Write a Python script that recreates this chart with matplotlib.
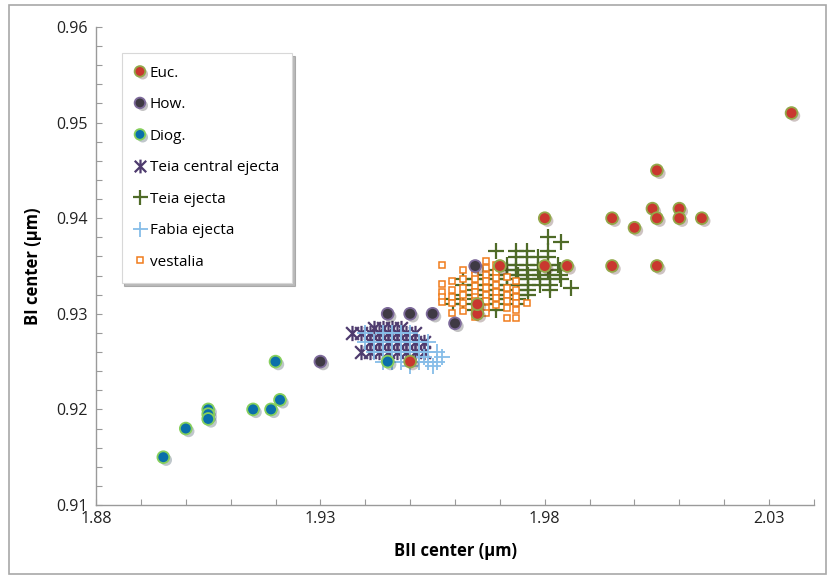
import numpy as np
import matplotlib
matplotlib.use('Agg')
import matplotlib.pyplot as plt
from matplotlib.path import Path
from matplotlib.patches import Rectangle
from matplotlib.ticker import FixedLocator, MultipleLocator
import matplotlib.patheffects as pe

plt.rcParams['font.family'] = ['Open Sans', 'DejaVu Sans']

# ---- data ----
euc_x = [1.950, 1.965, 1.965, 1.970, 1.980, 1.985, 1.980, 1.995, 1.995, 2.000,
         2.004, 2.005, 2.005, 2.005, 2.010, 2.010, 2.015, 2.035]
euc_y = [0.925, 0.930, 0.931, 0.935, 0.935, 0.935, 0.940, 0.940, 0.935, 0.939,
         0.941, 0.945, 0.940, 0.935, 0.941, 0.940, 0.940, 0.951]

how_x = [1.930, 1.945, 1.950, 1.955, 1.960, 1.9645]
how_y = [0.925, 0.930, 0.930, 0.930, 0.929, 0.935]

diog_x = [1.895, 1.900, 1.905, 1.905, 1.905, 1.915, 1.919, 1.920, 1.921, 1.945]
diog_y = [0.915, 0.918, 0.920, 0.9195, 0.919, 0.920, 0.920, 0.925, 0.921, 0.925]

# Teia central ejecta, one row per y value
teia_c_rows = {
    0.9285: [1.942, 1.944, 1.946, 1.948],
    0.9280: [1.937, 1.939, 1.941, 1.943, 1.945, 1.947, 1.949, 1.951],
    0.9270: [1.941, 1.943, 1.945, 1.947, 1.949, 1.951, 1.953],
    0.9260: [1.939, 1.941, 1.943, 1.945, 1.947, 1.949, 1.951, 1.953],
}

teia_rows = {
    0.9380: [1.9808],
    0.9375: [1.9837],
    0.9366: [1.9692, 1.9737, 1.9761, 1.9808],
    0.9359: [1.9737, 1.9761, 1.9785, 1.9808],
    0.9351: [1.9715, 1.9737, 1.9761, 1.9785, 1.9808, 1.9830],
    0.9346: [1.9692, 1.9715, 1.9737, 1.9761, 1.9785, 1.9808, 1.9833],
    0.9341: [1.9670, 1.9692, 1.9715, 1.9741, 1.9763, 1.9789, 1.9811, 1.9833],
    0.9336: [1.9618, 1.9644, 1.9670, 1.9692, 1.9715, 1.9741, 1.9763, 1.9789, 1.9811, 1.9837],
    0.9330: [1.9618, 1.9644, 1.9670, 1.9692, 1.9715, 1.9741, 1.9763, 1.9789, 1.9811],
    0.9327: [1.9859],
    0.9325: [1.9644, 1.9670, 1.9692, 1.9715, 1.9741, 1.9763, 1.9811],
    0.9320: [1.9618, 1.9644, 1.9670, 1.9692, 1.9715, 1.9741, 1.9763],
    0.9315: [1.9596, 1.9644, 1.9670, 1.9692, 1.9715, 1.9741],
    0.9310: [1.9596, 1.9618, 1.9670, 1.9692, 1.9741],
    0.9304: [1.9644, 1.9692],
}

fabia_rows = {
    0.9280: [1.940, 1.944, 1.946, 1.948, 1.950],
    0.9270: [1.940, 1.942, 1.944, 1.946, 1.948, 1.950, 1.952, 1.954],
    0.9260: [1.942, 1.944, 1.946, 1.948, 1.950, 1.952, 1.954, 1.956],
    0.9255: [1.953, 1.957],
    0.9250: [1.944, 1.946, 1.948, 1.950, 1.952, 1.954, 1.956],
    0.9245: [1.950, 1.955],
}

# vestalia, one column per x value
vest_cols = {
    1.9570: [0.9351, 0.9331, 0.9323, 0.9318, 0.9312],
    1.9594: [0.9334, 0.9325, 0.9318, 0.9311, 0.9301],
    1.9618: [0.9346, 0.9336, 0.9327, 0.9320, 0.9311, 0.9303],
    1.9644: [0.9346, 0.9341, 0.9336, 0.9329, 0.9323, 0.9318, 0.9313, 0.9308, 0.9303, 0.9297],
    1.9668: [0.9355, 0.9348, 0.9341, 0.9334, 0.9327, 0.9320, 0.9313, 0.9306, 0.9301],
    1.9692: [0.9351, 0.9344, 0.9337, 0.9330, 0.9323, 0.9316, 0.9309],
    1.9715: [0.9339, 0.9327, 0.9320, 0.9313, 0.9306, 0.9296],
    1.9737: [0.9334, 0.9325, 0.9318, 0.9311, 0.9304, 0.9296],
    1.9761: [0.9311],
}


def rows_to_xy(rows):
    xs, ys = [], []
    for y, xl in rows.items():
        for x in xl:
            xs.append(x)
            ys.append(y)
    return xs, ys


def cols_to_xy(cols):
    xs, ys = [], []
    for x, yl in cols.items():
        for y in yl:
            xs.append(x)
            ys.append(y)
    return xs, ys


teia_c_x, teia_c_y = rows_to_xy(teia_c_rows)
teia_x, teia_y = rows_to_xy(teia_rows)
fabia_x, fabia_y = rows_to_xy(fabia_rows)
vest_x, vest_y = cols_to_xy(vest_cols)

# excel style "star" marker: an X with a vertical bar
star = Path([(-1, -1), (1, 1), (-1, 1), (1, -1), (0, -1.2), (0, 1.2)],
            [Path.MOVETO, Path.LINETO, Path.MOVETO, Path.LINETO, Path.MOVETO, Path.LINETO])

fig = plt.figure(figsize=(8.3, 5.79), dpi=100)
ax = fig.add_axes([0.1157, 0.1278, 0.865, 0.8256])

shadow = [pe.SimplePatchShadow(offset=(2, -2), alpha=0.25), pe.Normal()]

ax.plot(teia_c_x, teia_c_y, ls='none', marker=star, ms=11, mew=1.6, color='#4E3B6E',
        mfc='none', label='Teia central ejecta', zorder=2)
ax.plot(fabia_x, fabia_y, ls='none', marker='+', ms=12, mew=1.3, color='#86BDE8',
        label='Fabia ejecta', zorder=3)
ax.plot(teia_x, teia_y, ls='none', marker='+', ms=12, mew=1.6, color='#4F6B28',
        label='Teia ejecta', zorder=4)
ax.plot(vest_x, vest_y, ls='none', marker='s', ms=4.5, mew=1.1, mfc='white',
        mec='#F07C1C', label='vestalia', zorder=5)
ax.plot(euc_x, euc_y, ls='none', marker='o', ms=8.5, mfc='#C9372F', mec='#93A84A',
        mew=1.3, label='Euc.', zorder=6, path_effects=shadow)
ax.plot(how_x, how_y, ls='none', marker='o', ms=8.5, mfc='#3F3A44', mec='#7D6A9A',
        mew=1.3, label='How.', zorder=6, path_effects=shadow)
ax.plot(diog_x, diog_y, ls='none', marker='o', ms=8.5, mfc='#0A6FAA', mec='#86CF5C',
        mew=1.3, label='Diog.', zorder=6, path_effects=shadow)

ax.set_xlim(1.88, 2.04)
ax.set_ylim(0.91, 0.96)
ax.xaxis.set_major_locator(FixedLocator([1.88, 1.93, 1.98, 2.03]))
ax.xaxis.set_minor_locator(MultipleLocator(0.01))
ax.yaxis.set_major_locator(MultipleLocator(0.01))
ax.yaxis.set_minor_locator(MultipleLocator(0.002))
ax.xaxis.set_major_formatter(plt.FuncFormatter(lambda v, p: '%.2f' % v))
ax.yaxis.set_major_formatter(plt.FuncFormatter(lambda v, p: '%.2f' % v))

for s in ['top', 'right']:
    ax.spines[s].set_visible(False)
for s in ['left', 'bottom']:
    ax.spines[s].set_color('#9A9A9A')
    ax.spines[s].set_linewidth(1.0)
ax.tick_params(which='both', direction='in', length=4, color='#9A9A9A', width=0.8)
ax.tick_params(which='major', labelsize=11.5, labelcolor='#222222')
ax.tick_params(axis='x', which='major', pad=4)
ax.tick_params(axis='y', which='major', pad=6)

ax.set_xlabel('BII center (µm)', fontsize=12, fontweight='bold', labelpad=11)
ax.set_ylabel('BI center (µm)', fontsize=12, fontweight='bold', labelpad=10)

order = ['Euc.', 'How.', 'Diog.', 'Teia central ejecta', 'Teia ejecta', 'Fabia ejecta', 'vestalia']
handles, labels = ax.get_legend_handles_labels()
hmap = dict(zip(labels, handles))
leg = ax.legend([hmap[k] for k in order], order, loc='upper left',
                bbox_to_anchor=(0.025, 0.962), fontsize=11, frameon=True,
                fancybox=False, shadow={'color': '#777777', 'alpha': 0.5},
                edgecolor='#D8D8D8', labelspacing=1.08, handlelength=0.7,
                handletextpad=0.3, borderpad=0.85, markerscale=0.9)
leg.get_frame().set_linewidth(0.8)

fig.patches.append(Rectangle((9 / 830, 5 / 579), 817 / 830, 569 / 579,
                             transform=fig.transFigure, fill=False,
                             edgecolor='#A8A8A8', linewidth=1.2))

fig.savefig('out.png', dpi=100)
